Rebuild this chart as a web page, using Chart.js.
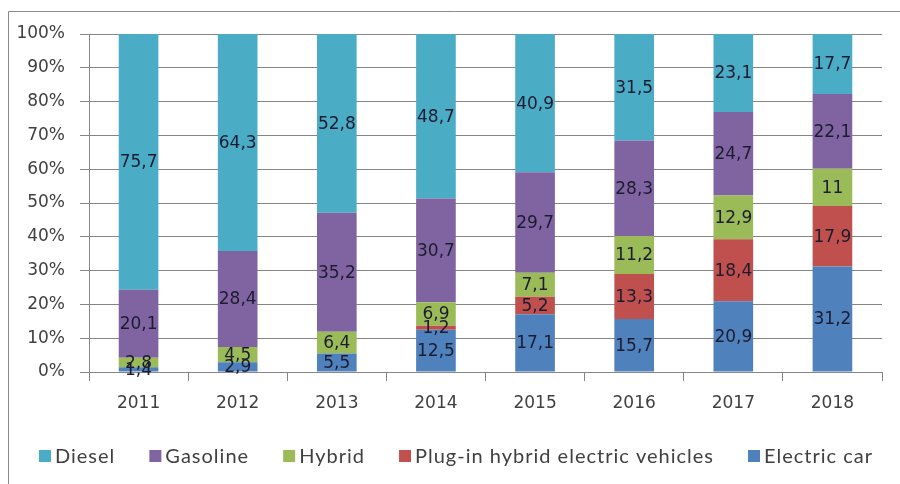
<!DOCTYPE html>
<html>
<head>
<meta charset="utf-8">
<script src="https://cdn.jsdelivr.net/npm/chart.js@4"></script>
<style>
  html, body { margin: 0; padding: 0; background: #fff; }
  #wrap { width: 900px; height: 484px; }
</style>
</head>
<body>
<div id="wrap"><canvas id="myChart" width="900" height="484"></canvas></div>
<script>
// chart data
var years = ["2011", "2012", "2013", "2014", "2015", "2016", "2017", "2018"];
var electricCar = [1.4, 2.9, 5.5, 12.5, 17.1, 15.7, 20.9, 31.2];
var plugInHybrid = [null, null, null, 1.2, 5.2, 13.3, 18.4, 17.9];
var hybrid = [2.8, 4.5, 6.4, 6.9, 7.1, 11.2, 12.9, 11];
var gasoline = [20.1, 28.4, 35.2, 30.7, 29.7, 28.3, 24.7, 22.1];
var diesel = [75.7, 64.3, 52.8, 48.7, 40.9, 31.5, 23.1, 17.7];
var yTicks = ["0%", "10%", "20%", "30%", "40%", "50%", "60%", "70%", "80%", "90%", "100%"];

var series = [
    { label: "Electric car", values: electricCar, color: "#4F81BD" },
    { label: "Plug-in hybrid electric vehicles", values: plugInHybrid, color: "#C0504D" },
    { label: "Hybrid", values: hybrid, color: "#9BBB59" },
    { label: "Gasoline", values: gasoline, color: "#8064A2" },
    { label: "Diesel", values: diesel, color: "#4BACC6" }
];

// totals per year, so the stack fills 100%
var totals = years.map(function (y, i) {
    return series.reduce(function (s, d) { return s + (d.values[i] || 0); }, 0);
});

var font = "'DejaVu Sans', Verdana, sans-serif";

// labels in the middle of each segment
var segmentLabels = {
    id: 'segmentLabels',
    afterDatasetsDraw: function (chart) {
        var ctx = chart.ctx;
        ctx.save();
        ctx.font = "17px " + font;
        ctx.fillStyle = "#1c1c30";
        ctx.textAlign = "center";
        ctx.textBaseline = "middle";
        chart.data.datasets.forEach(function (ds, di) {
            var meta = chart.getDatasetMeta(di);
            meta.data.forEach(function (bar, i) {
                var v = ds.raw[i];
                if (v == null) return;
                ctx.fillText(String(v).replace('.', ','), bar.x, (bar.y + bar.base) / 2 + 1);
            });
        });
        ctx.restore();
    }
};

// frame of the picture
var frame = {
    id: 'frame',
    beforeDraw: function (chart) {
        var ctx = chart.ctx;
        ctx.save();
        ctx.strokeStyle = "#8a8a8a";
        ctx.lineWidth = 1;
        ctx.beginPath();
        ctx.moveTo(8.5, 484);
        ctx.lineTo(8.5, 11.5);
        ctx.lineTo(900, 11.5);
        ctx.stroke();
        ctx.restore();
    }
};

// legend row under the axis, spread like the Excel one
var wideLegend = {
    id: 'wideLegend',
    afterDraw: function (chart) {
        var ctx = chart.ctx;
        var items = chart.data.datasets.slice().reverse();
        var left = 39, right = 873, y = 456, box = 12, gap = 4;
        ctx.save();
        ctx.font = "20px Lato, 'Open Sans', sans-serif";
        if ('letterSpacing' in ctx) ctx.letterSpacing = "1px";
        var widths = items.map(function (d) { return ctx.measureText(d.label).width; });
        var used = widths.reduce(function (s, w) { return s + box + gap + w; }, 0);
        var space = (right - left - used) / (items.length - 1);
        var x = left;
        ctx.textBaseline = "middle";
        items.forEach(function (d, i) {
            ctx.fillStyle = d.backgroundColor;
            ctx.fillRect(x, y - box / 2, box, box);
            ctx.fillStyle = "#404040";
            ctx.fillText(d.label, x + box + gap, y + 1);
            x += box + gap + widths[i] + space;
        });
        ctx.restore();
    }
};

var ctx = document.getElementById('myChart').getContext('2d');
var myChart = new Chart(ctx, {
    type: 'bar',
    data: {
        labels: years,
        datasets: series.map(function (s) {
            return {
                label: s.label,
                raw: s.values,
                data: s.values.map(function (v, i) { return v == null ? null : v / totals[i] * 100; }),
                backgroundColor: s.color,
                borderWidth: 0,
                categoryPercentage: 1,
                barPercentage: 0.4
            };
        })
    },
    options: {
        responsive: false,
        animation: false,
        layout: { padding: { top: 34, right: 18, left: 0, bottom: 62 } },
        plugins: {
            legend: { display: false },
            tooltip: { enabled: false }
        },
        scales: {
            x: {
                stacked: true,
                grid: { drawOnChartArea: false, drawTicks: true, tickLength: 9, color: "#868686" },
                border: { color: "#868686" },
                ticks: { color: "#404040", padding: 12, font: { family: font, size: 17 } },
                afterFit: function (scale) { scale.height = 50; }
            },
            y: {
                stacked: true,
                min: 0,
                max: 100,
                grid: { color: "#868686", tickLength: 9 },
                border: { color: "#868686" },
                ticks: {
                    stepSize: 10,
                    color: "#404040",
                    padding: 15,
                    font: { family: font, size: 17 },
                    callback: function (v) { return yTicks[Math.round(v / 10)]; }
                },
                afterFit: function (scale) { scale.width = 89; }
            }
        }
    },
    plugins: [frame, segmentLabels, wideLegend]
});
</script>
</body>
</html>
